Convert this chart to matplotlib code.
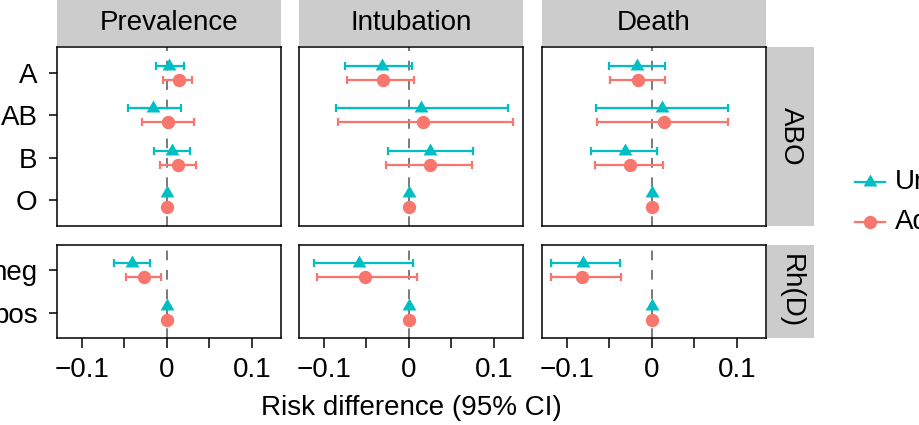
import matplotlib
matplotlib.use('Agg')
import matplotlib.pyplot as plt
from matplotlib.lines import Line2D
from matplotlib.path import Path
import numpy as np

plt.rcParams['font.family'] = ['Liberation Sans', 'DejaVu Sans']
plt.rcParams['axes.unicode_minus'] = True

outcomes = ['Prevalence', 'Intubation', 'Death']
abo_groups = ['A', 'AB', 'B', 'O']
rh_groups = ['neg', 'pos']
row_strips = ['ABO', 'Rh(D)']
series_labels = ['Unadjusted', 'Adjusted']
x_ticks = [-0.1, -0.05, 0, 0.05, 0.1]
x_tick_labels = ['\u22120.1', '', '0', '', '0.1']
x_label = 'Risk difference (95% CI)'

# ABO: values in order A, AB, B, O ; per outcome (Prevalence, Intubation, Death)
unadj_abo_est = [[0.003, -0.016, 0.0055, 0.0], [-0.032, 0.014, 0.025, 0.0], [-0.018, 0.012, -0.031, 0.0]]
unadj_abo_lo = [[-0.013, -0.046, -0.015, 0.0], [-0.075, -0.086, -0.025, 0.0], [-0.050, -0.066, -0.071, 0.0]]
unadj_abo_hi = [[0.020, 0.017, 0.027, 0.0], [0.0035, 0.116, 0.075, 0.0], [0.016, 0.0895, 0.0066, 0.0]]
adj_abo_est = [[0.014, 0.0015, 0.013, 0.0], [-0.030, 0.017, 0.025, 0.0], [-0.016, 0.014, -0.026, 0.0]]
adj_abo_lo = [[-0.004, -0.029, -0.008, 0.0], [-0.073, -0.083, -0.027, 0.0], [-0.049, -0.064, -0.0665, 0.0]]
adj_abo_hi = [[0.030, 0.032, 0.034, 0.0], [0.0066, 0.122, 0.074, 0.0], [0.016, 0.0895, 0.013, 0.0]]

# Rh(D): values in order neg, pos
unadj_rh_est = [[-0.0406, 0.0], [-0.058, 0.0], [-0.081, 0.0]]
unadj_rh_lo = [[-0.062, 0.0], [-0.111, 0.0], [-0.118, 0.0]]
unadj_rh_hi = [[-0.0196, 0.0], [0.005, 0.0], [-0.038, 0.0]]
adj_rh_est = [[-0.027, 0.0], [-0.052, 0.0], [-0.0825, 0.0]]
adj_rh_lo = [[-0.048, 0.0], [-0.1075, 0.0], [-0.118, 0.0]]
adj_rh_hi = [[-0.007, 0.0], [0.0094, 0.0], [-0.036, 0.0]]

TEAL = '#00BFC4'
SALMON = '#F8766D'
STRIP = '#CCCCCC'
FS = 20

W, H = 920, 425
fig = plt.figure(figsize=(W / 100, H / 100), dpi=100)

def px_axes(x0, y0, x1, y1, **kw):
    return fig.add_axes([x0 / W, 1 - y1 / H, (x1 - x0) / W, (y1 - y0) / H], **kw)

tri = Path([(-1, -0.577), (1, -0.577), (0, 1.155), (-1, -0.577)],
           [Path.MOVETO, Path.LINETO, Path.LINETO, Path.CLOSEPOLY])

cols = [(57, 281), (299, 523), (542, 766)]
rows = [(47, 226), (245, 338)]
XLIM = (-0.129, 0.134)
DODGE = 0.165
TRI_MS = 11.5
CIR_MS = 9.6

def draw_panel(ax, groups, est_u, lo_u, hi_u, est_a, lo_a, hi_a):
    n = len(groups)
    ypos = np.arange(n, 0, -1).astype(float)
    ax.axvline(0, color='#7A7A7A', lw=1.4, dashes=(5, 5), zorder=1)
    for est, lo, hi, yoff, col, mk, ms in [
        (est_u, lo_u, hi_u, DODGE, TEAL, tri, TRI_MS),
        (est_a, lo_a, hi_a, -DODGE, SALMON, 'o', CIR_MS)]:
        est = np.array(est); lo = np.array(lo); hi = np.array(hi)
        y = ypos + yoff
        ax.errorbar(est, y, xerr=[est - lo, hi - est], fmt='none', ecolor=col,
                    elinewidth=1.6, capsize=3.0, capthick=1.6, zorder=2)
        ax.plot(est, y, linestyle='none', marker=mk, markersize=ms, color=col,
                markeredgewidth=0, zorder=3)
    ax.set_xlim(*XLIM)
    ax.set_ylim(0.4, n + 0.6)
    ax.set_yticks(ypos)
    ax.set_yticklabels(groups)
    ax.set_xticks(x_ticks)
    ax.set_xticklabels(x_tick_labels)
    for s in ax.spines.values():
        s.set_linewidth(1.1)
        s.set_color('black')
    ax.tick_params(axis='both', labelsize=FS, length=6, width=1.1, color='black', pad=4)

for ci, (x0, x1) in enumerate(cols):
    ax1 = px_axes(x0, rows[0][0], x1, rows[0][1])
    draw_panel(ax1, abo_groups, unadj_abo_est[ci], unadj_abo_lo[ci], unadj_abo_hi[ci],
               adj_abo_est[ci], adj_abo_lo[ci], adj_abo_hi[ci])
    ax2 = px_axes(x0, rows[1][0], x1, rows[1][1])
    draw_panel(ax2, rh_groups, unadj_rh_est[ci], unadj_rh_lo[ci], unadj_rh_hi[ci],
               adj_rh_est[ci], adj_rh_lo[ci], adj_rh_hi[ci])
    ax1.tick_params(axis='x', bottom=False, labelbottom=False)
    if ci > 0:
        ax1.tick_params(axis='y', left=False, labelleft=False)
        ax2.tick_params(axis='y', left=False, labelleft=False)
    else:
        ax1.tick_params(axis='y', pad=8)
        ax2.tick_params(axis='y', pad=8)
    ax2.tick_params(axis='x', length=7.5, pad=6)
    # top strip
    st = px_axes(x0, 0, x1, 46)
    st.set_facecolor(STRIP)
    st.set_xticks([]); st.set_yticks([])
    for s in st.spines.values():
        s.set_visible(False)
    st.text(0.5, 0.5, outcomes[ci], ha='center', va='center', fontsize=FS,
            transform=st.transAxes)

for ri, (y0, y1) in enumerate(rows):
    st = px_axes(767, y0, 814, y1)
    st.set_facecolor(STRIP)
    st.set_xticks([]); st.set_yticks([])
    for s in st.spines.values():
        s.set_visible(False)
    st.text(0.5, 0.5, row_strips[ri], ha='center', va='center', fontsize=FS,
            rotation=-90, transform=st.transAxes)

fig.text(411 / W, 1 - 408 / H, x_label, ha='center', va='center', fontsize=FS)

# legend
for i, (lab, col, mk, ms) in enumerate([(series_labels[0], TEAL, tri, TRI_MS),
                                         (series_labels[1], SALMON, 'o', CIR_MS)]):
    yy = 1 - (182 + 40 * i) / H
    fig.add_artist(Line2D([855 / W, 870 / W, 885 / W], [yy, yy, yy], color=col, lw=1.6,
                          marker=mk, markersize=ms, markevery=[1], markeredgewidth=0,
                          transform=fig.transFigure))
    fig.text(895 / W, yy, lab, ha='left', va='center', fontsize=FS)

fig.savefig('out.png', dpi=100)
